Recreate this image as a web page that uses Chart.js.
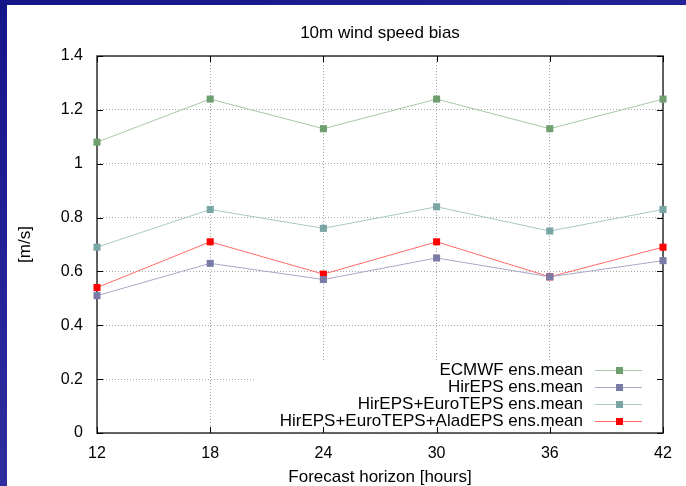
<!DOCTYPE html>
<html>
<head>
<meta charset="utf-8">
<script src="https://cdn.jsdelivr.net/npm/chart.js@4"></script>
<style>
  html, body { margin: 0; padding: 0; }
  body {
    width: 686px; height: 486px; overflow: hidden;
    background: linear-gradient(160deg, #15158a 0%, #28289a 50%, #3a3aa8 100%);
    position: relative;
  }
  #panel { position: absolute; left: 7px; top: 5px; width: 679px; height: 481px; background: #fff; }
</style>
</head>
<body>
<div id="panel"><canvas id="chart" width="679" height="481"></canvas></div>
<script>
const hours = [12, 18, 24, 30, 36, 42];
const ecmwf = [1.08, 1.24, 1.13, 1.24, 1.13, 1.24];
const hirEps = [0.51, 0.63, 0.57, 0.65, 0.58, 0.64];
const hirEuro = [0.69, 0.83, 0.76, 0.84, 0.75, 0.83];
const hirEuroAlad = [0.54, 0.71, 0.59, 0.71, 0.58, 0.69];
const names = [
  "ECMWF ens.mean",
  "HirEPS ens.mean",
  "HirEPS+EuroTEPS ens.mean",
  "HirEPS+EuroTEPS+AladEPS ens.mean",
];
const yTicks = [0, 0.2, 0.4, 0.6, 0.8, 1, 1.2, 1.4];

const FONT = "'Liberation Sans', Arial, sans-serif";
const pointCols = ["#6f9f6f", "#7b7ba8", "#79a5a5", "#ff0000"];
const lineCols = ["#a6c8a6", "#a8a8c8", "#a6c8c8", "#ff6a6a"];

function series(values, i) {
  return {
    label: names[i],
    data: hours.map((h, k) => ({ x: h, y: values[k] })),
    borderColor: lineCols[i],
    backgroundColor: pointCols[i],
    pointBackgroundColor: pointCols[i],
    pointBorderColor: pointCols[i],
    borderWidth: 1,
    pointStyle: "rect",
    pointRadius: 5,
    pointBorderWidth: 0,
    tension: 0,
  };
}

// gnuplot style frame, inward ticks, masked legend box, titles
const decor = {
  id: "decor",
  beforeDatasetsDraw(chart) {
    const { ctx, chartArea: a, scales } = chart;
    ctx.save();
    // legend box hides grid lines
    ctx.fillStyle = "#fff";
    ctx.fillRect(248, 355, a.right - 1 - 248, a.bottom - 1 - 355);
    // frame
    ctx.strokeStyle = "#303030";
    ctx.lineWidth = 1.5;
    ctx.strokeRect(a.left, a.top, a.right - a.left, a.bottom - a.top);
    // inward ticks
    ctx.strokeStyle = "#000";
    ctx.lineWidth = 1;
    ctx.beginPath();
    yTicks.forEach((v) => {
      const y = Math.round(scales.y.getPixelForValue(v)) + 0.5;
      ctx.moveTo(a.left, y); ctx.lineTo(a.left + 6, y);
      ctx.moveTo(a.right, y); ctx.lineTo(a.right - 6, y);
    });
    hours.forEach((h) => {
      const x = Math.round(scales.x.getPixelForValue(h)) + 0.5;
      ctx.moveTo(x, a.bottom); ctx.lineTo(x, a.bottom - 6);
      ctx.moveTo(x, a.top); ctx.lineTo(x, a.top + 6);
    });
    ctx.stroke();
    // titles
    ctx.fillStyle = "#000";
    ctx.textAlign = "center";
    ctx.textBaseline = "middle";
    ctx.font = "17px " + FONT;
    ctx.fillText("10m wind speed bias", (a.left + a.right) / 2, 28);
    ctx.fillText("Forecast horizon [hours]", (a.left + a.right) / 2, 472);
    ctx.save();
    ctx.translate(18, (a.top + a.bottom) / 2);
    ctx.rotate(-Math.PI / 2);
    ctx.fillText("[m/s]", 0, 0);
    ctx.restore();
    ctx.restore();
  },
  afterDatasetsDraw(chart) {
    const { ctx } = chart;
    ctx.save();
    ctx.font = "17px " + FONT;
    ctx.textAlign = "right";
    ctx.textBaseline = "middle";
    chart.data.datasets.forEach((ds, i) => {
      const y = 365 + i * 17;
      ctx.fillStyle = "#000";
      ctx.fillText(ds.label, 576, y);
      ctx.strokeStyle = ds.borderColor;
      ctx.lineWidth = 1;
      ctx.beginPath();
      ctx.moveTo(588, y + 0.5); ctx.lineTo(635, y + 0.5);
      ctx.stroke();
      ctx.fillStyle = ds.pointBackgroundColor;
      ctx.fillRect(609, y - 3, 7, 7);
    });
    ctx.restore();
  },
};

new Chart(document.getElementById("chart"), {
  type: "line",
  data: {
    datasets: [
      series(ecmwf, 0),
      series(hirEps, 1),
      series(hirEuro, 2),
      series(hirEuroAlad, 3),
    ],
  },
  options: {
    responsive: false,
    animation: false,
    clip: false,
    layout: { padding: { top: 51, right: 23, left: 0, bottom: 0 } },
    plugins: { legend: { display: false }, tooltip: { enabled: false }, title: { display: false } },
    scales: {
      x: {
        type: "linear",
        min: 12,
        max: 42,
        afterBuildTicks: (s) => { s.ticks = hours.map((v) => ({ value: v })); },
        afterFit: (s) => { s.height = 53; },
        ticks: { color: "#000", font: { family: FONT, size: 16 }, padding: 11, maxRotation: 0 },
        grid: { color: "#a8a8a8", lineWidth: 1, drawTicks: false },
        border: { display: false, dash: [1, 2] },
      },
      y: {
        min: 0,
        max: 1.4,
        afterBuildTicks: (s) => { s.ticks = yTicks.map((v) => ({ value: v })); },
        afterFit: (s) => { s.width = 90; },
        ticks: {
          color: "#000",
          font: { family: FONT, size: 16 },
          padding: 14,
          callback: (v) => String(Math.round(v * 10) / 10),
        },
        grid: { color: "#a8a8a8", lineWidth: 1, drawTicks: false },
        border: { display: false, dash: [1, 2] },
      },
    },
  },
  plugins: [decor],
});
</script>
</body>
</html>
